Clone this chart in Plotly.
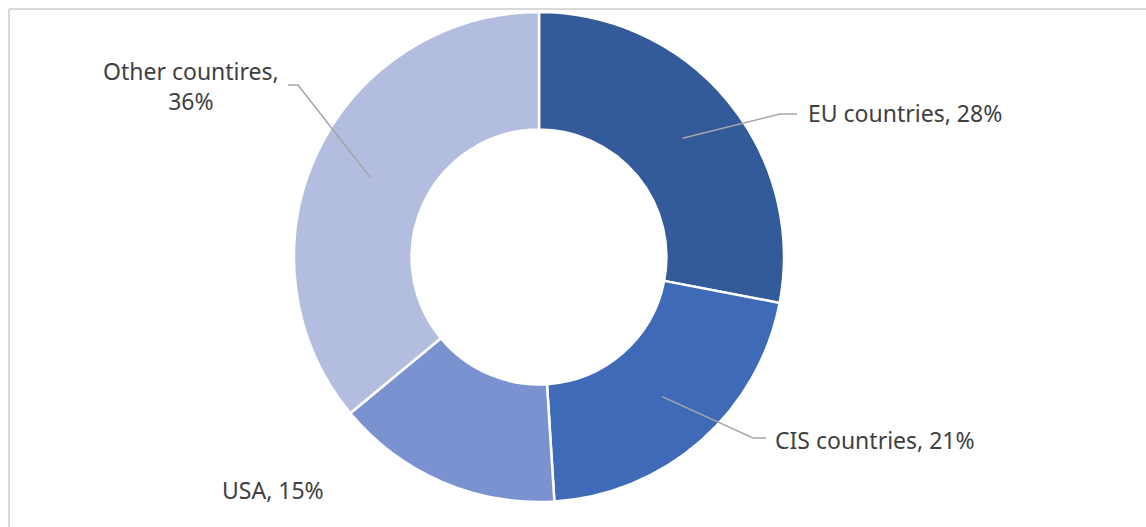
import math
import plotly.graph_objects as go

# Export market shares
regions = ["EU countries", "CIS countries", "USA", "Other countires"]
shares = [28, 21, 15, 36]
colors = ["#335A99", "#3E6AB7", "#7A92CF", "#B2BDDF"]

W, H = 1146, 527
FONT = "Noto Sans"
TEXT_COLOR = "#404040"
LEADER_COLOR = "#A6A6A6"

# Donut geometry in pixels
cx, cy, r_out = 539, 257, 245
hole = 0.52
r_mid = r_out * (1 + hole) / 2


def px(x):
    return x / W


def py(y):
    return 1 - y / H


fig = go.Figure(
    go.Pie(
        labels=regions,
        values=shares,
        sort=False,
        direction="clockwise",
        rotation=0,
        hole=hole,
        marker=dict(colors=colors, line=dict(color="white", width=2.5)),
        textinfo="none",
        hoverinfo="skip",
        domain=dict(x=[px(cx - r_out), px(cx + r_out)], y=[py(cy + r_out), py(cy - r_out)]),
        showlegend=False,
    )
)

# Anchor point on the ring at each slice's mid-angle
total = sum(shares)
anchors = []
acc = 0
for v in shares:
    mid = (acc + v / 2) / total * 2 * math.pi
    anchors.append((cx + r_mid * math.sin(mid), cy - r_mid * math.cos(mid)))
    acc += v

# Label placement: (elbow, line end, text x, text y, xanchor)
label_layout = {
    "EU countries": ((780, 114), (797, 114), 806, 113, "left"),
    "CIS countries": ((753, 438), (766, 438), 773, 440, "left"),
    "USA": (None, None, 273, 490, "center"),
    "Other countires": ((298, 85), (288, 85), 191, 86, "center"),
}

shapes = []
annotations = []
for name, v, (ax, ay) in zip(regions, shares, anchors):
    elbow, end, tx, ty, xanchor = label_layout[name]
    if elbow is not None:
        path = f"M {px(ax)},{py(ay)} L {px(elbow[0])},{py(elbow[1])} L {px(end[0])},{py(end[1])}"
        shapes.append(dict(type="path", xref="paper", yref="paper", path=path,
                           line=dict(color=LEADER_COLOR, width=1.5)))
    text = f"{name},<br>{v}%" if name == "Other countires" else f"{name}, {v}%"
    annotations.append(dict(
        x=px(tx), y=py(ty), xref="paper", yref="paper", text=text, showarrow=False,
        xanchor=xanchor, yanchor="middle", align="center",
        font=dict(family=FONT, size=23, color=TEXT_COLOR),
    ))

# Chart frame
shapes.append(dict(type="line", xref="paper", yref="paper", x0=px(9), x1=1, y0=py(9), y1=py(9),
                   line=dict(color="#D9D9D9", width=2)))
shapes.append(dict(type="line", xref="paper", yref="paper", x0=px(9), x1=px(9), y0=0, y1=py(9),
                   line=dict(color="#D9D9D9", width=2)))

fig.update_layout(
    width=W, height=H,
    margin=dict(l=0, r=0, t=0, b=0),
    paper_bgcolor="white", plot_bgcolor="white",
    shapes=shapes, annotations=annotations,
)

fig.write_html("out.html")
